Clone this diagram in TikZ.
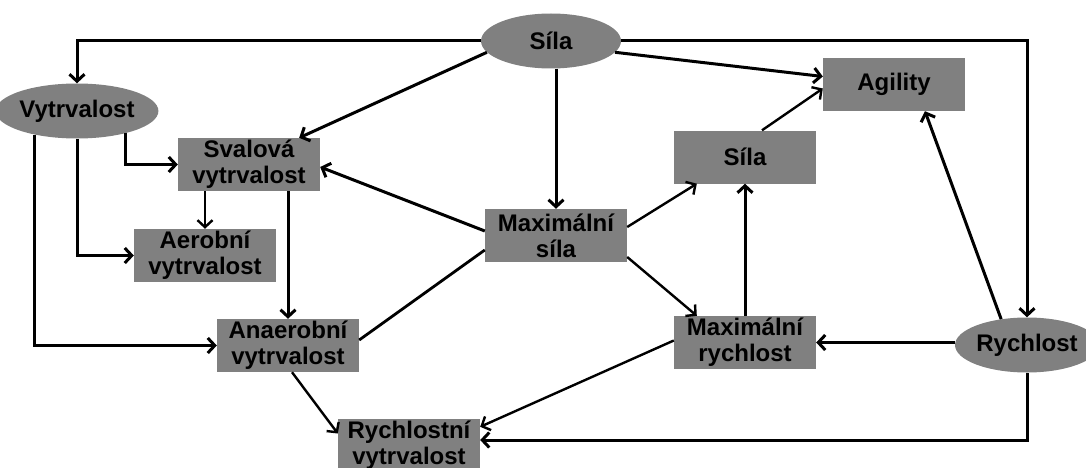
\documentclass[tikz,border=0pt]{standalone}
\usepackage{fontspec}
\setmainfont{Liberation Sans}
\usetikzlibrary{arrows.meta,shapes.geometric,calc}
\definecolor{boxgray}{RGB}{128,128,128}
\begin{document}
\begin{tikzpicture}[x=1pt,y=-1pt,
  lbl/.style={font=\bfseries\fontsize{24}{26}\selectfont, text=black},
  box/.style={lbl, fill=boxgray, minimum width=142pt, minimum height=53pt,
    inner sep=0pt, align=center},
  oval/.style={lbl, ellipse, fill=boxgray, minimum width=140pt,
    minimum height=55pt, inner sep=0pt},
  link/.style={line width=3pt, -{Straight Barb[length=7pt,width=15pt]}},
  thinlink/.style={link, line width=2.4pt},
  plain/.style={line width=2.8pt}]
\useasboundingbox (0,0) rectangle (1086,468);

% nodes
\node[oval] (sila)    at (551,41)    {Síla};
\node[oval] (vyt)     at (77,111)    {Vytrvalost};
\node[oval, minimum width=144pt] (rych) at (1027,345) {Rychlost};
\node[box]  (sval)    at (249,164.5) {Svalová\\vytrvalost};
\node[box]  (aer)     at (205,255.5) {Aerobní\\vytrvalost};
\node[box]  (anaer)   at (288,345.5) {Anaerobní\\vytrvalost};
\node[box]  (rychvyt) at (409,445.5) {Rychlostní\\vytrvalost};
\node[box]  (maxsila) at (556,235.5) {Maximální\\síla};
\node[box]  (silabox) at (745,157)   {Síla};
\node[box]  (agil)    at (894,84.5)  {Agility};
\node[box]  (maxrych) at (745,342.5) {Maximální\\rychlost};

% connectors from the top oval
\draw[link] (sila.west) -| (vyt.north);
\draw[link] (sila.east) -| (rych.north);
\draw[link] (sila.350) -- ($(agil.west)+(0,-8)$);
\draw[link] (sila.190) -- ($(sval.north east)+(-21,0)$);
\draw[link] (sila.south -| maxsila.north) -- (maxsila.north);

% endurance branch
\draw[link] (vyt.335.8) |- (sval.west);
\draw[link] (vyt.south) |- (aer.west);
\draw[link] (vyt.209.5) |- (anaer.west);
\draw[thinlink] (sval.south -| aer.north) -- (aer.north);
\draw[link] (sval.south -| anaer.north) -- (anaer.north);
\draw[thinlink] ($(anaer.south)+(4,0)$) -- ($(rychvyt.west)+(0,-12)$);

% maximal strength
\draw[link] ($(maxsila.west)+(0,-4.5)$) -- ($(sval.east)+(0,2.5)$);
\draw[plain] ($(maxsila.west)+(0,14.5)$) -- ($(anaer.east)+(0,-5.5)$);
\draw[thinlink] ($(maxsila.east)+(0,-8.5)$) -- ($(silabox.south west)+(23,0)$);
\draw[thinlink] ($(maxsila.east)+(0,21.5)$) -- ($(maxrych.north west)+(23,0)$);

% speed branch
\draw[link] (maxrych.north) -- (silabox.south);
\draw[thinlink] ($(silabox.north)+(17,0)$) -- ($(agil.west)+(0,4)$);
\draw[link] (rych.135.4) -- ($(agil.south)+(31,0)$);
\draw[link] (rych.west |- maxrych.east) -- (maxrych.east);
\draw[thinlink] ($(maxrych.west)+(0,-2)$) -- ($(rychvyt.north east)+(0,8)$);
\draw[link] (rych.south) |- ($(rychvyt.east)+(0,-5.5)$);
\end{tikzpicture}
\end{document}
